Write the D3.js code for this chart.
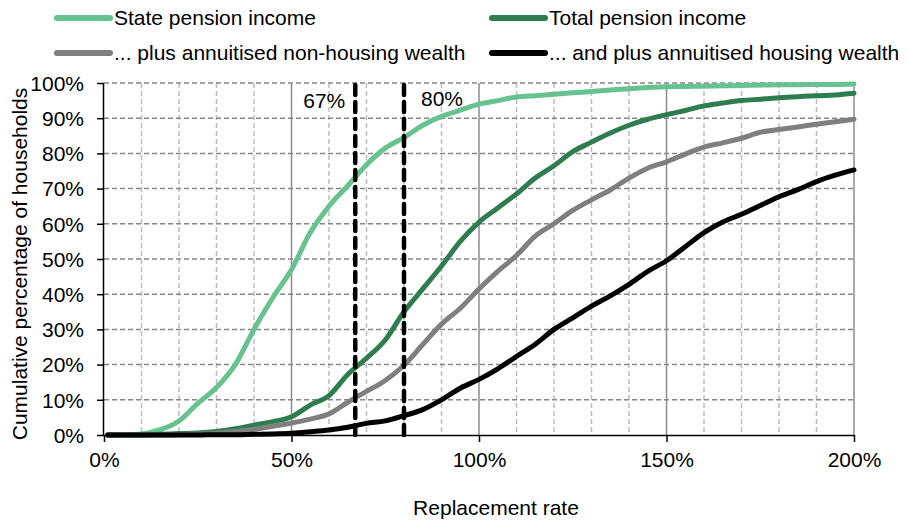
<!DOCTYPE html>
<html>
<head>
<meta charset="utf-8">
<script src="https://cdn.jsdelivr.net/npm/d3@7"></script>
<style>
  body { margin: 0; background: #fff; }
  text { font-family: "Liberation Sans", Arial, sans-serif; fill: #000; }
</style>
</head>
<body>
<svg id="canvas"></svg>
<script>
// replacement rate (%) at which each cumulative share is read
let rates = [1, 5, 10, 15, 20, 25, 30, 35, 40, 45, 50, 55, 60, 65, 70, 75, 80, 85, 90, 95,
             100, 105, 110, 115, 120, 125, 130, 135, 140, 145, 150, 155, 160, 165, 170, 175, 180, 185, 190, 195, 200]

let statePension = [0, 0, 0.3, 1.5, 4, 9, 13.5, 20, 30, 39, 47, 57.5, 65, 70.8, 76.8, 81.5, 84.5, 88, 90.5, 92.3,
                    94, 95, 96, 96.4, 96.8, 97.2, 97.6, 98, 98.4, 98.7, 98.9, 99, 99.1, 99.2, 99.3, 99.4, 99.5, 99.5, 99.6, 99.6, 99.7]
let totalPension = [0, 0, 0, 0.2, 0.4, 0.6, 1, 1.8, 2.8, 3.8, 5.2, 8.5, 11.2, 17.2, 21.8, 27, 35, 41.5, 48, 55,
                    60.5, 64.5, 68.5, 73, 76.5, 80.5, 83.2, 85.8, 88, 89.7, 91, 92.2, 93.5, 94.3, 95, 95.4, 95.8, 96.1, 96.4, 96.6, 97.1]
let nonHousing = [0, 0, 0, 0, 0.1, 0.3, 0.5, 1, 1.6, 2.5, 3.4, 4.5, 6, 9.3, 12.4, 15.5, 19.8, 25.7, 31.5, 36,
                  41.5, 46.5, 51, 56.5, 60, 63.8, 66.8, 69.6, 73, 75.8, 77.6, 79.8, 81.8, 83, 84.3, 86, 86.8, 87.5, 88.3, 89, 89.7]
let housing = [0, 0, 0, 0, 0, 0, 0.1, 0.1, 0.2, 0.3, 0.5, 0.9, 1.4, 2.2, 3.3, 4, 5.5, 7.2, 10, 13.3,
               15.8, 18.8, 22.3, 25.8, 30, 33.3, 36.6, 39.5, 42.8, 46.5, 49.5, 53.5, 57.5, 60.5, 62.7, 65.2, 67.7, 69.7, 72, 73.8, 75.3]

let seriesNames = ['State pension income', 'Total pension income',
                   '... plus annuitised non-housing wealth', '... and plus annuitised housing wealth']
let seriesValues = [statePension, totalPension, nonHousing, housing]
let colors = ['#66c28f', '#2e7d50', '#7f7f7f', '#000000']

let markers = [67, 80]
let xTicks = [0, 50, 100, 150, 200]
let yTicks = [0, 10, 20, 30, 40, 50, 60, 70, 80, 90, 100]

//dimensions
let width = 908
let height = 523
let plotLeft = 104, plotRight = 854, plotTop = 83, plotBottom = 435
let fontSize = '21px'

let svg = d3.select('#canvas')
            .attr('width', width)
            .attr('height', height)

let xScale = d3.scaleLinear().domain([0, 200]).range([plotLeft, plotRight])
let yScale = d3.scaleLinear().domain([0, 100]).range([plotBottom, plotTop])

// vertical minor grid (every 10%)
let minor = d3.range(10, 201, 10).filter(d => d % 50 !== 0)
svg.append('g').selectAll('line')
   .data(minor)
   .enter()
   .append('line')
   .attr('x1', d => xScale(d)).attr('x2', d => xScale(d))
   .attr('y1', plotTop).attr('y2', plotBottom)
   .attr('stroke', '#bdbdbd')
   .attr('stroke-width', 1.5)
   .attr('stroke-dasharray', '5,3')

// horizontal grid
svg.append('g').selectAll('line')
   .data(yTicks.slice(1))
   .enter()
   .append('line')
   .attr('x1', plotLeft).attr('x2', plotRight)
   .attr('y1', d => yScale(d)).attr('y2', d => yScale(d))
   .attr('stroke', '#878787')
   .attr('stroke-width', 1.5)
   .attr('stroke-dasharray', '5,3')

// vertical major grid
svg.append('g').selectAll('line')
   .data(xTicks.slice(1))
   .enter()
   .append('line')
   .attr('x1', d => xScale(d)).attr('x2', d => xScale(d))
   .attr('y1', plotTop).attr('y2', plotBottom)
   .attr('stroke', '#8c8c8c')
   .attr('stroke-width', 1.5)

// axes
let xAxis = d3.axisBottom(xScale)
              .tickValues(xTicks)
              .tickSize(7)
              .tickPadding(10)
              .tickFormat(d => d + '%')
let yAxis = d3.axisLeft(yScale)
              .tickValues(yTicks)
              .tickSize(7)
              .tickPadding(13)
              .tickFormat(d => d + '%')

let gx = svg.append('g')
            .attr('transform', 'translate(0,' + plotBottom + ')')
            .call(xAxis)
let gy = svg.append('g')
            .attr('transform', 'translate(' + plotLeft + ',0)')
            .call(yAxis)

gx.select('.domain').attr('d', 'M' + plotLeft + ',0.5H' + plotRight).attr('stroke', '#000').attr('stroke-width', 1.5)
gy.select('.domain').attr('d', 'M-0.5,' + plotTop + 'V' + plotBottom).attr('stroke', '#000').attr('stroke-width', 1.5)
gx.selectAll('.tick line').attr('stroke', '#000').attr('stroke-width', 1.5)
gy.selectAll('.tick line').attr('stroke', '#000').attr('stroke-width', 1.5)
gx.attr('font-family', null).attr('font-size', null)
gy.attr('font-family', null).attr('font-size', null)
gx.selectAll('text').style('font-size', fontSize)
gy.selectAll('text').style('font-size', fontSize).attr('dy', '0.35em')

// series lines
let line = d3.line()
             .x((d, i) => xScale(rates[i]))
             .y(d => yScale(d))
             .curve(d3.curveMonotoneX)

svg.append('g').selectAll('path')
   .data(seriesValues)
   .enter()
   .append('path')
   .attr('d', d => line(d))
   .attr('fill', 'none')
   .attr('stroke', (d, i) => colors[i])
   .attr('stroke-width', 5)
   .attr('stroke-linejoin', 'round')
   .attr('stroke-linecap', 'round')

// 67% and 80% reference lines
svg.append('g').selectAll('line')
   .data(markers)
   .enter()
   .append('line')
   .attr('x1', d => xScale(d)).attr('x2', d => xScale(d))
   .attr('y1', plotTop + 2).attr('y2', plotBottom + 2)
   .attr('stroke', '#000')
   .attr('stroke-width', 4.5)
   .attr('stroke-dasharray', '10,7')
   .attr('stroke-linecap', 'round')

svg.append('text')
   .attr('x', xScale(markers[0]) - 10)
   .attr('y', 108)
   .attr('text-anchor', 'end')
   .style('font-size', fontSize)
   .text(markers[0] + '%')
svg.append('text')
   .attr('x', xScale(markers[1]) + 17)
   .attr('y', 106)
   .style('font-size', fontSize)
   .text(markers[1] + '%')

// axis titles
svg.append('text')
   .attr('x', 496)
   .attr('y', 515)
   .attr('text-anchor', 'middle')
   .style('font-size', fontSize)
   .text('Replacement rate')
svg.append('text')
   .attr('transform', 'translate(27,264) rotate(-90)')
   .attr('text-anchor', 'middle')
   .style('font-size', fontSize)
   .text('Cumulative percentage of households')

// legend
let legendPos = [[57, 18], [492, 18], [57, 53], [492, 53]]
let legend = svg.append('g').selectAll('g')
                .data(seriesNames)
                .enter()
                .append('g')
                .attr('transform', (d, i) => 'translate(' + legendPos[i][0] + ',' + legendPos[i][1] + ')')
legend.append('line')
      .attr('x1', 0).attr('x2', 53)
      .attr('y1', 0).attr('y2', 0)
      .attr('stroke', (d, i) => colors[i])
      .attr('stroke-width', 6)
      .attr('stroke-linecap', 'round')
legend.append('text')
      .attr('x', 57)
      .attr('y', 7)
      .style('font-size', fontSize)
      .text(d => d)
</script>
</body>
</html>
